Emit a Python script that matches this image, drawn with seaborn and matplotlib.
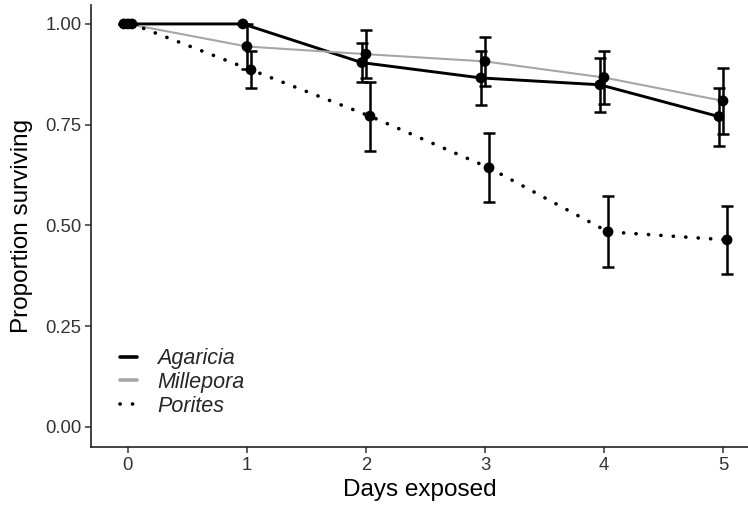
import pandas as pd
import seaborn as sns
import matplotlib.pyplot as plt
from matplotlib.lines import Line2D


# datos
dias = [0, 1, 2, 3, 4, 5]
especies = ["Agaricia", "Millepora", "Porites"]

agaricia = [1.00, 1.00, 0.904, 0.866, 0.849, 0.770]
agaricia_err = [0.0, 0.0, 0.048, 0.067, 0.067, 0.072]

millepora = [1.00, 0.944, 0.925, 0.907, 0.867, 0.809]
millepora_err = [0.0, 0.055, 0.060, 0.061, 0.066, 0.082]

porites = [1.00, 0.886, 0.771, 0.643, 0.484, 0.464]
porites_err = [0.0, 0.046, 0.086, 0.086, 0.088, 0.084]

colores = {"Agaricia": "black", "Millepora": "#a6a6a6", "Porites": "black"}
grosor = {"Agaricia": 2.1, "Millepora": 1.5, "Porites": 2.6}
desplazamiento = {"Agaricia": -0.034, "Millepora": 0.0, "Porites": 0.034}


def crear_df():
    filas = []
    valores = {"Agaricia": (agaricia, agaricia_err),
               "Millepora": (millepora, millepora_err),
               "Porites": (porites, porites_err)}
    for esp in especies:
        media, err = valores[esp]
        for d, m, e in zip(dias, media, err):
            filas.append({"Dia": d + desplazamiento[esp], "Especie": esp,
                          "Prop": m, "Err": e})
    return pd.DataFrame(filas)


def crear_grafico(df):
    sns.set_style("ticks")
    plt.rcParams["font.family"] = ["Liberation Sans", "DejaVu Sans"]

    fig = plt.figure(figsize=(7.48, 5.05), dpi=100)
    ax = fig.add_axes([0.1217, 0.1149, 0.8783, 0.8752])

    for esp in especies:
        sub = df[df["Especie"] == esp]
        if esp == "Porites":
            estilo = (0, (0.05, 3.4))
        else:
            estilo = "-"
        sns.lineplot(x="Dia", y="Prop", data=sub, color=colores[esp],
                     linewidth=grosor[esp], linestyle=estilo,
                     dash_capstyle="round", ax=ax, legend=False, zorder=2)

    ax.errorbar(df["Dia"], df["Prop"], yerr=df["Err"], fmt="none",
                ecolor="black", elinewidth=1.8, capsize=4, capthick=1.8,
                zorder=3)

    sns.scatterplot(x="Dia", y="Prop", data=df, color="black", s=60,
                    edgecolor="none", ax=ax, legend=False, zorder=4)

    ax.set_xlim(-0.31, 5.21)
    ax.set_ylim(-0.05, 1.047)
    ax.set_xticks(dias)
    ax.set_yticks([0, 0.25, 0.5, 0.75, 1.0])
    ax.set_yticklabels(["0.00", "0.25", "0.50", "0.75", "1.00"])

    ax.set_xlabel("Days exposed", fontsize=17.5, color="black", labelpad=4)
    ax.set_ylabel("Proportion surviving", fontsize=17.5, color="black",
                  labelpad=9)
    ax.tick_params(axis="both", labelsize=13.3, labelcolor="#333333",
                   color="#333333", length=4, width=1.1, pad=3)

    sns.despine(ax=ax)
    for lado in ["left", "bottom"]:
        ax.spines[lado].set_linewidth(1.2)
        ax.spines[lado].set_color("#222222")

    manejadores = [
        Line2D([0], [0], color="black", linewidth=2.6),
        Line2D([0], [0], color="#a6a6a6", linewidth=2.6),
        Line2D([0], [0], color="black", linewidth=2.6,
               linestyle=(0, (0.05, 3.4)), dash_capstyle="round"),
    ]
    etiquetas = especies
    ax.legend(manejadores, etiquetas, loc="lower left",
              bbox_to_anchor=(0.015, 0.025), frameon=False,
              prop={"size": 15.5, "style": "italic"},
              handlelength=0.8, handletextpad=0.9, labelspacing=0.12)
    return fig


def main():
    df = crear_df()
    fig = crear_grafico(df)
    fig.savefig("out.png", dpi=100)


if __name__ == "__main__":

    main()
